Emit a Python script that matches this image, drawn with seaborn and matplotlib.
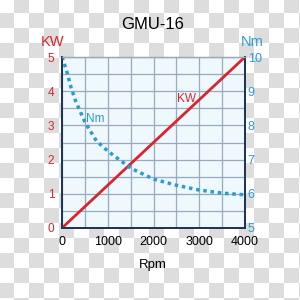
import numpy as np
import pandas as pd
import matplotlib
matplotlib.use("Agg")
import matplotlib.pyplot as plt
import seaborn as sns

sns.set_style("white")
plt.rcParams['font.family'] = ['Liberation Sans Narrow', 'Liberation Sans', 'DejaVu Sans']

# data
rpm_kw = [0, 4000]
kw = [0, 5]
rpm_nm = [0, 100, 200, 300, 400, 500, 750, 1000, 1500, 2000, 2500, 3000, 3500, 4000]
nm = [10.0, 9.6, 9.1, 8.7, 8.4, 8.1, 7.55, 7.25, 6.75, 6.43, 6.25, 6.11, 6.02, 5.97]
x_ticks = [0, 1000, 2000, 3000, 4000]
kw_ticks = [0, 1, 2, 3, 4, 5]
nm_ticks = [5, 6, 7, 8, 9, 10]

RED = '#d8252d'
BLUE = '#2a9ad4'
GRID = '#97abbd'
SPINE = '#1d3556'

fig = plt.figure(figsize=(3, 3), dpi=100)

# transparent-background checkerboard
yy, xx = np.mgrid[0:300, 0:300]
check = (((xx + 1) // 15 + (yy + 2) // 15) % 2).astype(float)
img = np.ones((300, 300, 3))
img[check == 1] = 0.87
fig.figimage(img, xo=0, yo=0, zorder=-10)
fig.patch.set_alpha(0)

ax = fig.add_axes([62/300, 72/300, 183/300, 171/300])
ax.set_facecolor('#eef8fd')

df_kw = pd.DataFrame({'rpm': rpm_kw, 'kw': kw})
sns.lineplot(data=df_kw, x='rpm', y='kw', ax=ax, color=RED, lw=2, zorder=5)

ax.set_xlim(0, 4000)
ax.set_ylim(0, 5)
ax.set_xticks(x_ticks)
ax.set_xticks(np.arange(500, 4000, 1000), minor=True)
ax.set_yticks(kw_ticks)
ax.set_yticks(np.arange(0.5, 5, 1), minor=True)
ax.grid(True, which='both', color=GRID, lw=0.9)
ax.set_axisbelow(True)
ax.tick_params(which='both', length=0)
ax.tick_params(axis='y', colors=RED, labelsize=8.5, pad=5.5)
ax.tick_params(axis='x', colors='black', labelsize=9, pad=6)
ax.set_xlabel('')
ax.set_ylabel('')

ax2 = ax.twinx()
df_nm = pd.DataFrame({'rpm': rpm_nm, 'nm': nm})
sns.lineplot(data=df_nm, x='rpm', y='nm', ax=ax2, color=BLUE, lw=2.5,
             linestyle=(0, (1, 1.1)))
ax2.set_ylim(5, 10)
ax2.set_yticks(nm_ticks)
ax2.tick_params(length=0, colors=BLUE, labelsize=9, pad=2)
ax2.set_ylabel('')

for a in (ax, ax2):
    for s in ('left', 'bottom', 'right'):
        a.spines[s].set_color(SPINE)
        a.spines[s].set_linewidth(1.3)
    a.spines['top'].set_color(GRID)
    a.spines['top'].set_linewidth(0.9)

ax.text(2730, 3.76, 'KW', color=RED, fontsize=8.5, ha='center', va='center')
ax2.text(732, 8.19, 'Nm', color=BLUE, fontsize=8.5, ha='center', va='center')

fig.text(0.51, 0.917, 'GMU-16', ha='center', va='center', fontsize=12,
         family='Liberation Sans', color='black')
fig.text(53/300, 1 - 42/300, 'KW', ha='center', va='center', fontsize=10.5, color=RED)
fig.text(252/300, 1 - 42/300, 'Nm', ha='center', va='center', fontsize=10.5, color=BLUE)
fig.text(153/300, 1 - 265/300, 'Rpm', ha='center', va='center', fontsize=9.5,
         family='Liberation Sans', color='black')

fig.savefig('out.png', dpi=100)
